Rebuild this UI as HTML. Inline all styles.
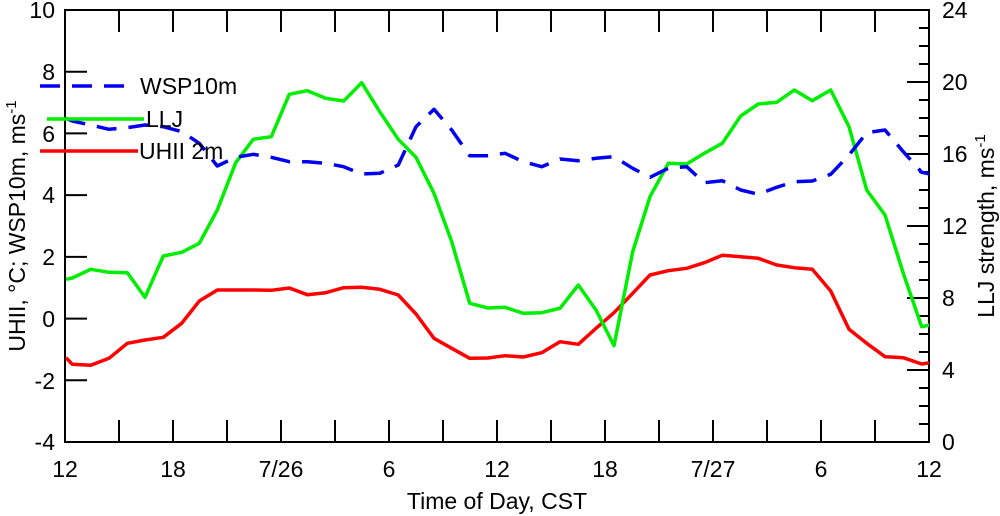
<!DOCTYPE html>
<html><head><meta charset="utf-8"><style>
html,body{margin:0;padding:0;background:#fff;}
svg{display:block;font-family:"Liberation Sans",sans-serif;}
</style></head><body>
<svg width="1000" height="516" viewBox="0 0 1000 516" xmlns="http://www.w3.org/2000/svg">
<defs><clipPath id="c"><rect x="65" y="10" width="864" height="432"/></clipPath></defs>
<g stroke="#000" stroke-width="2" fill="none">
<rect x="65" y="10" width="864" height="432"/>
<path d="M119 442v-22M173 442v-22M227 442v-22M281 442v-22M335 442v-22M389 442v-22M443 442v-22M497 442v-22M551 442v-22M605 442v-22M659 442v-22M713 442v-22M767 442v-22M821 442v-22M875 442v-22
M119 10v22M173 10v22M227 10v22M281 10v22M335 10v22M389 10v22M443 10v22M497 10v22M551 10v22M605 10v22M659 10v22M713 10v22M767 10v22M821 10v22M875 10v22"/>
<path d="M65 71.7h22M65 133.4h22M65 195.1h22M65 256.9h22M65 318.6h22M65 380.3h22"/>
<path d="M929 370h-22M929 298h-22M929 226h-22M929 154h-22M929 82h-22
M929 424h-10M929 406h-10M929 388h-10M929 352h-10M929 334h-10M929 316h-10M929 280h-10M929 262h-10M929 244h-10M929 208h-10M929 190h-10M929 172h-10M929 136h-10M929 118h-10M929 100h-10M929 64h-10M929 46h-10M929 28h-10"/>
</g>
<g font-size="23" fill="#000">
<g text-anchor="end">
<text x="55" y="18">10</text><text x="55" y="80">8</text><text x="55" y="142">6</text><text x="55" y="203">4</text><text x="55" y="265">2</text><text x="55" y="327">0</text><text x="55" y="389">-2</text><text x="55" y="450">-4</text>
</g>
<g text-anchor="start">
<text x="942" y="18">24</text><text x="942" y="90">20</text><text x="942" y="162">16</text><text x="942" y="234">12</text><text x="942" y="306">8</text><text x="942" y="378">4</text><text x="942" y="450">0</text>
</g>
<g text-anchor="middle">
<text x="65" y="477">12</text><text x="173" y="477">18</text><text x="281" y="477">7/26</text><text x="389" y="477">6</text><text x="497" y="477">12</text><text x="605" y="477">18</text><text x="713" y="477">7/27</text><text x="821" y="477">6</text><text x="929" y="477">12</text>
<text x="497" y="509">Time of Day, CST</text>
</g>
<text transform="translate(25,226) rotate(-90)" text-anchor="middle">UHII, °C; WSP10m, ms<tspan font-size="15" dy="-9">-1</tspan></text>
<text transform="translate(994,226) rotate(-90)" text-anchor="middle">LLJ strength, ms<tspan font-size="15" dy="-9">-1</tspan></text>
</g>
<g clip-path="url(#c)" fill="none" stroke-width="3.5" stroke-linejoin="round">
<polyline stroke="#ff0000" points="66,357.7 72.3,364.3 90.7,365.3 109,358.3 127.3,343.3 145,340 163.3,337.3 181.7,323.3 199.3,301 217.3,290 235.7,290 253.3,290 271.3,290.3 289.3,288 307.3,294.7 325.7,292.7 343.7,287.7 361.7,287.3 379.7,289.3 398.3,295 416,314 434,338.3 451.7,348.3 469.7,358.3 488,358 505,355.7 523.3,357 541.7,352.7 560,341.7 578.3,344.3 596,328.3 614,312.7 632.7,293.3 650,275 668.3,270.7 686.7,268.3 704.3,262.7 722.3,255.3 740.7,256.7 758.3,258.3 776.7,265 794.3,267.7 812.3,269.3 830.7,291 849,329.3 866.7,343.3 885,356.7 903.3,357.7 921.7,364 930,362.7"/>
<polyline stroke="#00ee00" points="66,279.3 72.3,278 90.7,269.3 109,272.3 127.3,272.7 145,297.3 163.3,256 181.7,252.3 199.3,243.3 217.3,210 235.7,162.7 253.3,139.3 271.3,136.7 289.3,94.3 307.3,90.7 325.7,98.3 343.7,101 361.7,82.7 379.7,111.7 398.3,139.3 416,157.3 434,193.3 451.7,241.7 469.7,303.3 488,308 505,307.3 523.3,313.3 541.7,312.7 560,308.3 578.3,285 596,310 614,345.7 632.7,251.7 650,196.7 668.3,163.3 686.7,164 704.3,153.3 722.3,143.3 740.7,116 758.3,104 776.7,102.3 794.3,90 812.3,100.7 830.7,90 849,126.7 866.7,190 885,215 903.3,273.3 921.7,326.7 930,325"/>
<polyline stroke="#0000ee" stroke-dasharray="20 12" points="66,118.3 72.3,121 90.7,125 109,129.3 127.3,127.7 145,125 163.3,126.7 181.7,131.7 199.3,143.3 217.3,166 235.7,157.3 253.3,154.3 271.3,157.3 289.3,161.7 307.3,161.7 325.7,163.3 343.7,166.7 361.7,174 379.7,173.3 398.3,165 416,126.7 434,109.3 451.7,130 469.7,155.7 488,155.7 505,153.3 523.3,161.7 541.7,166.7 560,159 578.3,160.7 596,158.3 614,156.7 632.7,168.3 650,177.3 668.3,168.3 686.7,166.7 704.3,182.7 722.3,180.7 740.7,190 758.3,194.3 776.7,187.3 794.3,181.7 812.3,181 830.7,174.3 849,155 866.7,132.7 885,130 903.3,151.7 921.7,172.3 930,174"/>
</g>
<g stroke-width="3.5">
<line x1="40" y1="86" x2="124" y2="86" stroke="#0000ee" stroke-dasharray="20 12"/>
<line x1="47" y1="119" x2="144" y2="119" stroke="#00ee00"/>
<line x1="40" y1="151" x2="138" y2="151" stroke="#ff0000"/>
</g>
<g font-size="23" fill="#000">
<text x="140" y="94">WSP10m</text>
<text x="146" y="127">LLJ</text>
<text x="139" y="159">UHII 2m</text>
</g>
</svg>
</body></html>
